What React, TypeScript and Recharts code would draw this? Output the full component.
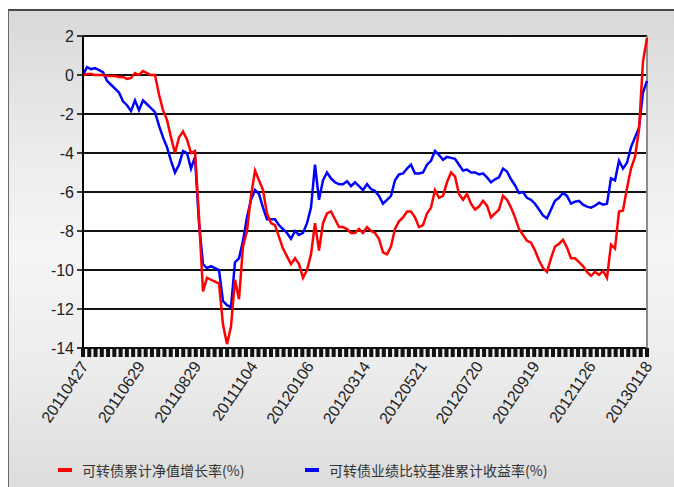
import React from 'react';
import { LineChart, Line, XAxis, YAxis, CartesianGrid, ReferenceLine } from 'recharts';

// date labels shown under the x axis (evenly spaced)
const dateLabels = [
  '20110427', '20110629', '20110829', '20111104', '20120106', '20120314',
  '20120521', '20120720', '20120919', '20121126', '20130118',
];

// 可转债累计净值增长率(%) - red
const navGrowth = [
  0.0, 0.05, 0.05, 0.0, 0.0, 0.0, -0.05, -0.05, -0.05, -0.1,
  -0.1, -0.2, -0.15, 0.1, 0.0, 0.2, 0.1, 0.0, 0.0, -1.0,
  -1.8, -2.3, -3.2, -4.0, -3.2, -2.9, -3.3, -4.0, -3.9, -7.3,
  -11.1, -10.4, -10.5, -10.6, -10.7, -12.8, -13.8, -12.9, -10.5, -11.5,
  -8.8, -8.0, -6.2, -4.9, -5.4, -5.9, -7.1, -7.6, -7.7, -8.3,
  -8.9, -9.3, -9.7, -9.4, -9.7, -10.4, -10.0, -9.2, -7.6, -9.0,
  -7.6, -7.1, -7.0, -7.4, -7.8, -7.8, -7.9, -8.1, -8.1, -7.9,
  -8.1, -7.8, -8.0, -8.1, -8.4, -9.1, -9.2, -8.8, -7.9, -7.5,
  -7.3, -7.0, -7.0, -7.3, -7.8, -7.7, -7.1, -6.8, -5.9, -6.3,
  -6.2, -5.5, -5.0, -5.2, -6.1, -6.4, -6.1, -6.6, -6.9, -6.75,
  -6.45, -6.7, -7.3, -7.1, -6.9, -6.2, -6.4, -6.8, -7.3, -7.9,
  -8.2, -8.5, -8.6, -9.0, -9.5, -9.9, -10.1, -9.4, -8.8, -8.65,
  -8.45, -8.85, -9.4, -9.4, -9.6, -9.8, -10.1, -10.3, -10.1, -10.25,
  -10.05, -10.4, -8.7, -8.9, -7.0, -6.95, -5.8, -4.8, -4.2, -2.8,
  0.7, 1.9,
];

// 可转债业绩比较基准累计收益率(%) - blue
const benchmarkReturn = [
  0.0, 0.4, 0.3, 0.35, 0.25, 0.15, -0.3, -0.5, -0.7, -0.9,
  -1.35, -1.55, -1.85, -1.3, -1.8, -1.3, -1.5, -1.7, -1.9, -2.6,
  -3.2, -3.7, -4.4, -5.0, -4.6, -3.9, -4.0, -4.8, -4.2, -7.6,
  -9.7, -9.9, -9.8, -9.9, -10.0, -11.6, -11.8, -11.9, -9.6, -9.4,
  -8.5, -7.3, -6.4, -5.9, -6.1, -6.8, -7.4, -7.4, -7.4, -7.7,
  -7.9, -8.1, -8.4, -8.0, -8.2, -8.1, -7.6, -6.8, -4.6, -6.4,
  -5.4, -5.0, -5.3, -5.5, -5.6, -5.6, -5.45, -5.7, -5.5, -5.7,
  -5.9, -5.6, -5.85, -5.95, -6.2, -6.6, -6.4, -6.2, -5.4, -5.1,
  -5.05, -4.8, -4.6, -5.05, -5.05, -5.0, -4.6, -4.4, -3.9, -4.1,
  -4.35, -4.2, -4.25, -4.3, -4.6, -4.9, -4.85, -5.0, -5.0, -5.1,
  -5.05, -5.25, -5.5, -5.35, -5.25, -4.8, -4.95, -5.35, -5.65, -6.05,
  -6.0, -6.3, -6.4, -6.6, -6.9, -7.2, -7.35, -6.9, -6.45, -6.3,
  -6.05, -6.2, -6.6, -6.5, -6.45, -6.65, -6.75, -6.8, -6.7, -6.55,
  -6.65, -6.6, -5.3, -5.4, -4.4, -4.8, -4.5, -3.7, -3.2, -2.7,
  -0.9, -0.3,
];

const yTicks = [2, 0, -2, -4, -6, -8, -10, -12, -14];

const chartData = navGrowth.map((v, i) => ({ i, nav: v, bench: benchmarkReturn[i] }));
const lastIndex = chartData.length - 1;

// the bottom axis is a dense row of small black tick marks, every 9th one gets a date
const markCount = 90;
const markStep = markCount / (dateLabels.length - 1);
const denseTicks = Array.from({ length: markCount + 1 }, (_, k) => (k * lastIndex) / markCount);

const narrowFont = "'Liberation Sans Narrow', 'Liberation Sans', Arial, sans-serif";

const DateTick = (props: any) => {
  const { x, y, payload } = props;
  const k = Math.round((payload.value * markCount) / lastIndex);
  const showLabel = k % markStep === 0;
  const lx = x + 6;
  const ly = y + 18;
  return (
    <g>
      <rect x={x - 2} y={y} width={4} height={9} fill="#111" />
      {showLabel && (
        <text
          x={lx}
          y={ly}
          textAnchor="end"
          transform={`rotate(-56, ${lx}, ${ly})`}
          fontSize={16}
          fontFamily={narrowFont}
          fill="#222"
        >
          {dateLabels[k / markStep]}
        </text>
      )}
    </g>
  );
};

const legendItems = [
  { name: '可转债累计净值增长率(%)', color: '#ff0000', left: 58 },
  { name: '可转债业绩比较基准累计收益率(%)', color: '#0000ff', left: 305 },
];

export default function App() {
  return (
    <div style={{ position: 'fixed', left: 0, top: 0, width: 674, height: 487, background: '#fff', overflow: 'hidden' }}>
      {/* grey panel behind the chart */}
      <div
        style={{
          position: 'absolute',
          left: 8,
          top: 9,
          width: 666,
          height: 478,
          borderTop: '2px solid #4a4a4a',
          borderLeft: '1px solid #6a6a6a',
          background: 'linear-gradient(to bottom, #d9d9d9 0%, #ececec 30%, #f5f5f5 50%, #ececec 75%, #dcdcdc 100%)',
        }}
      />
      <div style={{ position: 'absolute', left: 0, top: 0 }}>
        <LineChart
          width={674}
          height={487}
          data={chartData}
          margin={{ top: 36, right: 27, left: 43, bottom: 69 }}
        >
          <CartesianGrid vertical={false} stroke="#111" strokeWidth={2} fill="#fff" />
          <XAxis
            type="number"
            dataKey="i"
            domain={[0, lastIndex]}
            ticks={denseTicks}
            interval={0}
            height={70}
            axisLine={false}
            tickLine={false}
            tickSize={0}
            tickMargin={0}
            tick={<DateTick />}
          />
          <YAxis
            type="number"
            domain={[-14, 2]}
            ticks={yTicks}
            interval={0}
            width={40}
            tickSize={6}
            tickMargin={3}
            axisLine={{ stroke: '#000', strokeWidth: 2 }}
            tickLine={{ stroke: '#000', strokeWidth: 1.5 }}
            tick={{ fontSize: 16, fill: '#222', fontFamily: narrowFont }}
          />
          <ReferenceLine x={lastIndex} stroke="#8c8c8c" strokeWidth={2} />
          <Line
            type="linear"
            dataKey="bench"
            stroke="#0000ff"
            strokeWidth={2.5}
            dot={false}
            isAnimationActive={false}
          />
          <Line
            type="linear"
            dataKey="nav"
            stroke="#ff0000"
            strokeWidth={2.5}
            dot={false}
            isAnimationActive={false}
          />
        </LineChart>
      </div>
      {legendItems.map((item) => (
        <div
          key={item.name}
          style={{
            position: 'absolute',
            left: item.left,
            top: 460,
            display: 'flex',
            alignItems: 'center',
            fontFamily: "'Noto Sans CJK SC', sans-serif",
            fontSize: 14,
            color: '#333',
          }}
        >
          <span style={{ display: 'inline-block', width: 14, height: 4, background: item.color, marginRight: 10 }} />
          <span>{item.name}</span>
        </div>
      ))}
    </div>
  );
}
